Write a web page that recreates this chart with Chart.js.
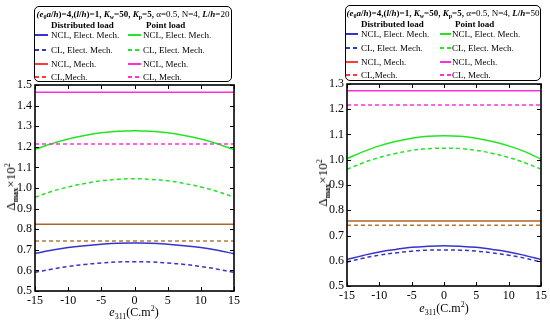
<!DOCTYPE html>
<html>
<head>
<meta charset="utf-8">
<script src="https://cdn.jsdelivr.net/npm/chart.js@4.4.1/dist/chart.umd.min.js"></script>
<style>
  html, body { margin: 0; padding: 0; background: #fff; overflow: hidden; }
  body { width: 550px; height: 322px; position: relative; font-family: "Liberation Serif", "DejaVu Serif", serif; color: #000; }
  canvas { position: absolute; }
  .legend { position: absolute; border: 1.5px solid #000; border-radius: 5px; box-sizing: border-box; background: #fff; }
  .lg { position: absolute; font-size: 9px; line-height: 10px; white-space: nowrap; }
  .sw { position: absolute; height: 2px; }
  .ttl { position: absolute; font-size: 9px; line-height: 10px; white-space: nowrap; }
  .ttl sub, .lg sub { font-size: 6px; vertical-align: -2px; line-height: 0; }
  .ytitle { position: absolute; font-size: 13px; white-space: nowrap; transform: translate(-50%, -50%) rotate(-90deg); }
  .ytitle sub { font-size: 8px; font-weight: bold; vertical-align: -3px; line-height: 0; }
  .ytitle sup, .xtitle sup { font-size: 8px; vertical-align: 5px; line-height: 0; }
  .xtitle { position: absolute; font-size: 12px; white-space: nowrap; transform: translate(-50%, -50%); }
  .xtitle sub { font-size: 8px; vertical-align: -3px; line-height: 0; }
</style>
</head>
<body>
<canvas id="chartL" width="250" height="252" style="left:0px;top:70px"></canvas>
<canvas id="chartR" width="260" height="252" style="left:290px;top:70px"></canvas>

<div class="ytitle" style="left:11px;top:187px">&Delta;<sub>max</sub>&times;10<sup>2</sup></div>
<div class="ytitle" style="left:323px;top:183px">&Delta;<sub>max</sub>&times;10<sup>2</sup></div>
<div class="xtitle" style="left:134px;top:312px"><i>e</i><sub>311</sub>(C.m<sup>2</sup>)</div>
<div class="xtitle" style="left:444px;top:308px"><i>e</i><sub>311</sub>(C.m<sup>2</sup>)</div>

<div id="legendL"></div>
<div id="legendR"></div>

<script>
// Données
const eValues = [-15, -12.5, -10, -7.5, -5, -2.5, 0, 2.5, 5, 7.5, 10, 12.5, 15];
const xTicks = [-15, -10, -5, 0, 5, 10, 15];
const yTicksL = [0.5, 0.6, 0.7, 0.8, 0.9, 1.0, 1.1, 1.2, 1.3, 1.4, 1.5];
const yTicksR = [0.5, 0.6, 0.7, 0.8, 0.9, 1.0, 1.1, 1.2, 1.3];

// L/h = 20
const distNclElecL = [0.683, 0.698, 0.711, 0.720, 0.727, 0.732, 0.733, 0.732, 0.727, 0.720, 0.711, 0.698, 0.681];
const distClElecL  = [0.591, 0.606, 0.619, 0.629, 0.636, 0.641, 0.642, 0.641, 0.636, 0.629, 0.619, 0.606, 0.590];
const distNclMechL = [0.824, 0.824, 0.824, 0.824, 0.824, 0.824, 0.824, 0.824, 0.824, 0.824, 0.824, 0.824, 0.824];
const distClMechL  = [0.743, 0.743, 0.743, 0.743, 0.743, 0.743, 0.743, 0.743, 0.743, 0.743, 0.743, 0.743, 0.743];
const ptNclElecL   = [1.188, 1.215, 1.238, 1.255, 1.268, 1.275, 1.278, 1.275, 1.268, 1.255, 1.238, 1.215, 1.186];
const ptClElecL    = [0.955, 0.983, 1.005, 1.022, 1.035, 1.042, 1.045, 1.042, 1.035, 1.022, 1.005, 0.983, 0.955];
const ptNclMechL   = [1.465, 1.465, 1.465, 1.465, 1.465, 1.465, 1.465, 1.465, 1.465, 1.465, 1.465, 1.465, 1.465];
const ptClMechL    = [1.214, 1.214, 1.214, 1.214, 1.214, 1.214, 1.214, 1.214, 1.214, 1.214, 1.214, 1.214, 1.214];

// L/h = 50
const distNclElecR = [0.605, 0.621, 0.635, 0.645, 0.653, 0.657, 0.659, 0.657, 0.653, 0.645, 0.635, 0.621, 0.605];
const distClElecR  = [0.595, 0.610, 0.622, 0.631, 0.638, 0.642, 0.643, 0.642, 0.638, 0.631, 0.622, 0.610, 0.595];
const distNclMechR = [0.757, 0.757, 0.757, 0.757, 0.757, 0.757, 0.757, 0.757, 0.757, 0.757, 0.757, 0.757, 0.757];
const distClMechR  = [0.741, 0.741, 0.741, 0.741, 0.741, 0.741, 0.741, 0.741, 0.741, 0.741, 0.741, 0.741, 0.741];
const ptNclElecR   = [1.005, 1.032, 1.055, 1.072, 1.085, 1.093, 1.095, 1.093, 1.085, 1.072, 1.055, 1.032, 1.002];
const ptClElecR    = [0.962, 0.988, 1.009, 1.025, 1.037, 1.044, 1.046, 1.044, 1.037, 1.025, 1.009, 0.988, 0.963];
const ptNclMechR   = [1.273, 1.273, 1.273, 1.273, 1.273, 1.273, 1.273, 1.273, 1.273, 1.273, 1.273, 1.273, 1.273];
const ptClMechR    = [1.217, 1.217, 1.217, 1.217, 1.217, 1.217, 1.217, 1.217, 1.217, 1.217, 1.217, 1.217, 1.217];

// Couleurs
const BLUE = '#3535cc';
const GREEN = '#22e622';
const MAGENTA = '#ff30d6';
const BROWN = '#b0642a';
const BROWN_D = '#b27838';
const RED = '#ff3b3b';

function series(values, color, dashed) {
    return {
        data: values.map((v, i) => ({ x: eValues[i], y: v })),
        borderColor: color,
        borderWidth: 1.5,
        borderDash: dashed ? [4, 3] : [],
        pointRadius: 0,
        tension: 0.4,
        fill: false
    };
}

// Cadre et graduations vers l'intérieur
const framePlugin = {
    id: 'frame',
    afterDraw(chart) {
        const { ctx, chartArea: a, scales } = chart;
        ctx.save();
        ctx.strokeStyle = '#000';
        ctx.lineWidth = 1;
        ctx.beginPath();
        scales.x.ticks.forEach(t => {
            const px = Math.round(scales.x.getPixelForValue(t.value)) + 0.5;
            ctx.moveTo(px, a.bottom); ctx.lineTo(px, a.bottom - 4);
            ctx.moveTo(px, a.top); ctx.lineTo(px, a.top + 4);
        });
        scales.y.ticks.forEach(t => {
            const py = Math.round(scales.y.getPixelForValue(t.value)) + 0.5;
            ctx.moveTo(a.left, py); ctx.lineTo(a.left + 4, py);
            ctx.moveTo(a.right, py); ctx.lineTo(a.right - 4, py);
        });
        ctx.stroke();
        ctx.lineWidth = 1.6;
        ctx.strokeRect(a.left, a.top, a.right - a.left, a.bottom - a.top);
        ctx.restore();
    }
};

function makeChart(id, sets, yTicks, yWidth, pad) {
    const tickFont = { family: '"Liberation Serif", serif', size: 12 };
    return new Chart(document.getElementById(id), {
        type: 'line',
        data: { datasets: sets },
        options: {
            responsive: false,
            animation: false,
            events: [],
            layout: { padding: pad },
            plugins: { legend: { display: false }, tooltip: { enabled: false } },
            scales: {
                x: {
                    type: 'linear',
                    min: xTicks[0],
                    max: xTicks[xTicks.length - 1],
                    grid: { display: false, drawTicks: false },
                    border: { display: false },
                    afterBuildTicks: s => { s.ticks = xTicks.map(v => ({ value: v })); },
                    afterFit: s => { s.height = 20; },
                    ticks: { color: '#000', font: tickFont, padding: 3, maxRotation: 0, autoSkip: false,
                             callback: v => String(v) }
                },
                y: {
                    min: yTicks[0],
                    max: yTicks[yTicks.length - 1],
                    grid: { display: false, drawTicks: false },
                    border: { display: false },
                    afterBuildTicks: s => { s.ticks = yTicks.map(v => ({ value: v })); },
                    afterFit: s => { s.width = yWidth; },
                    ticks: { color: '#000', font: tickFont, padding: 3, autoSkip: false,
                             callback: v => Number(v).toFixed(1) }
                }
            }
        },
        plugins: [framePlugin]
    });
}

makeChart('chartL', [
    series(ptNclMechL, MAGENTA, false),
    series(ptClMechL, MAGENTA, true),
    series(ptNclElecL, GREEN, false),
    series(ptClElecL, GREEN, true),
    series(distNclMechL, BROWN, false),
    series(distClMechL, BROWN_D, true),
    series(distNclElecL, BLUE, false),
    series(distClElecL, BLUE, true)
], yTicksL, 35, { left: 0, top: 15, right: 16, bottom: 11 });

makeChart('chartR', [
    series(ptNclMechR, MAGENTA, false),
    series(ptClMechR, MAGENTA, true),
    series(ptNclElecR, GREEN, false),
    series(ptClElecR, GREEN, true),
    series(distNclMechR, BROWN, false),
    series(distClMechR, BROWN_D, true),
    series(distNclElecR, BLUE, false),
    series(distClElecR, BLUE, true)
], yTicksR, 57, { left: 0, top: 14, right: 8, bottom: 16 });

// Légende encadrée (deux colonnes)
const legendRows = [
    ['NCL, Elect. Mech.', BLUE, false, 'NCL, Elect. Mech.', GREEN, false],
    ['CL, Elect. Mech.', BLUE, true, 'CL, Elect. Mech.', GREEN, true],
    ['NCL, Mech.', RED, false, 'NCL, Mech.', MAGENTA, false],
    ['CL,Mech.', RED, true, 'CL, Mech.', MAGENTA, true]
];

function swatch(x, y, w, color, dashed) {
    const bg = dashed
        ? `repeating-linear-gradient(90deg, ${color} 0 4px, transparent 4px 7px)`
        : color;
    return `<div class="sw" style="left:${x}px;top:${y - 1}px;width:${w}px;background:${bg}"></div>`;
}

function buildLegend(id, box, lh, rowsY, headY, c1, c2) {
    const el = document.getElementById(id);
    const title = `<b><i>(e</i><sub>0</sub><i>a</i>/<i>h</i>)=4,(<i>l</i>/<i>h</i>)=1, <i>K</i><sub>w</sub>=50, <i>K</i><sub>p</sub>=5,</b> &alpha;=0.5, N=4, <b><i>L</i>/<i>h</i></b>=${lh}`;
    let html = `<div class="legend" style="left:${box.x}px;top:${box.y}px;width:${box.w}px;height:${box.h}px"></div>`;
    html += `<div class="ttl" style="left:${box.x + box.w / 2}px;top:${box.y + 3}px;transform:translateX(-50%)">${title}</div>`;
    html += `<div class="lg" style="left:${c1.head}px;top:${headY - 5}px;font-weight:bold">Distributed load</div>`;
    html += `<div class="lg" style="left:${c2.head}px;top:${headY - 5}px;font-weight:bold">Point load</div>`;
    legendRows.forEach((r, i) => {
        const y = rowsY[i];
        html += swatch(c1.sx, y, c1.sw, r[1], r[2]);
        html += `<div class="lg" style="left:${c1.tx}px;top:${y - 5}px">${r[0]}</div>`;
        html += swatch(c2.sx, y, c2.sw, r[4], r[5]);
        html += `<div class="lg" style="left:${c2.tx}px;top:${y - 5}px">${r[3]}</div>`;
    });
    el.innerHTML = html;
}

buildLegend('legendL', { x: 34, y: 6, w: 198, h: 76 }, 20, [35, 49.5, 63.5, 77], 25,
    { sx: 35, sw: 13, tx: 51, head: 51 }, { sx: 128, sw: 13, tx: 143, head: 146 });
buildLegend('legendR', { x: 345, y: 5, w: 196, h: 76 }, 50, [34, 48, 62, 75], 24,
    { sx: 346, sw: 12, tx: 361, head: 361 }, { sx: 440, sw: 11, tx: 452, head: 455 });
</script>
</body>
</html>
